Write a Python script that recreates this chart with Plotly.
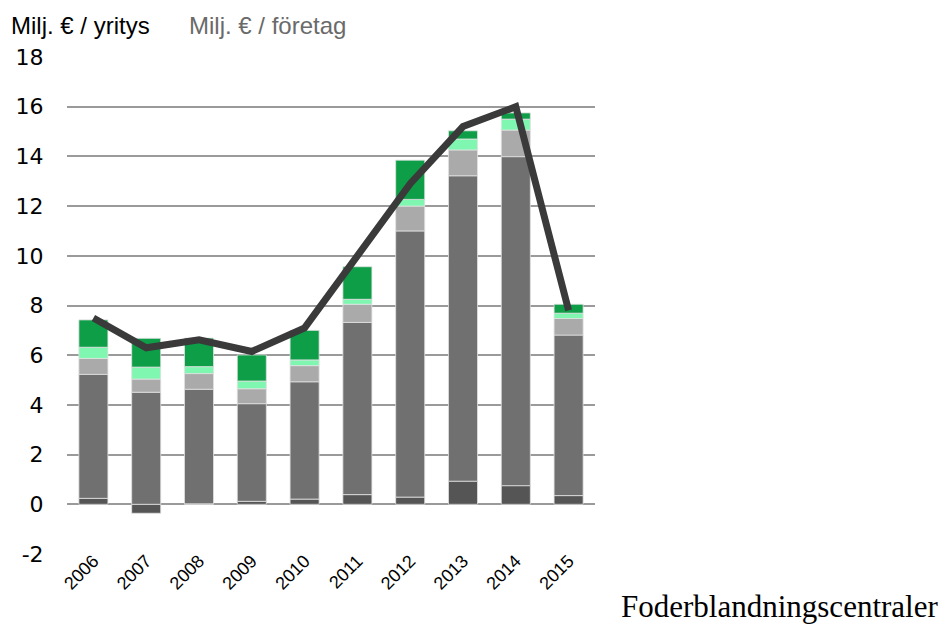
import plotly.graph_objects as go

# Vuodet / år
vuodet = ["2006", "2007", "2008", "2009", "2010", "2011", "2012", "2013", "2014", "2015"]

# Pinottujen pylvaiden osat (Milj. € / yritys), alhaalta ylos
osa_tumma = [0.24, -0.36, 0.02, 0.12, 0.21, 0.39, 0.29, 0.93, 0.75, 0.35]
osa_harmaa = [4.99, 4.51, 4.61, 3.93, 4.72, 6.93, 10.71, 12.29, 13.24, 6.46]
osa_vaaleanharmaa = [0.64, 0.53, 0.63, 0.60, 0.65, 0.73, 1.00, 1.04, 1.07, 0.67]
osa_vaaleanvihrea = [0.45, 0.48, 0.28, 0.31, 0.23, 0.20, 0.27, 0.44, 0.44, 0.21]
osa_vihrea = [1.10, 1.16, 1.15, 1.05, 1.19, 1.31, 1.58, 0.33, 0.25, 0.36]

# Viiva
viiva = [7.5, 6.3, 6.62, 6.15, 7.1, 9.95, 12.9, 15.2, 16.0, 7.8]

# Y-akselin merkinnat (tavuviiva, ei miinusmerkkia)
y_arvot = [-2, 0, 2, 4, 6, 8, 10, 12, 14, 16, 18]
y_tekstit = ["-2", "0", "2", "4", "6", "8", "10", "12", "14", "16", "18"]

osat = [
    (osa_tumma, "#555555"),
    (osa_harmaa, "#707070"),
    (osa_vaaleanharmaa, "#aaaaaa"),
    (osa_vaaleanvihrea, "#80f7b0"),
    (osa_vihrea, "#0e9e48"),
]

W, H = 945, 626
L, R, T, B = 67, 350, 57, 72
pw, ph = W - L - R, H - T - B


def px(x, y):
    # pikselit -> paperikoordinaatit
    return (x - L) / pw, 1 - (y - T) / ph


fig = go.Figure()

for arvot, vari in osat:
    fig.add_trace(go.Bar(
        x=vuodet, y=arvot,
        marker=dict(color=vari, line=dict(color="rgba(225,225,225,0.8)", width=1)),
        showlegend=False,
    ))

fig.add_trace(go.Scatter(
    x=vuodet, y=viiva,
    mode="lines",
    line=dict(color="#3a3a3a", width=7),
    showlegend=False,
))

tekstit = [
    ("Milj. € / yritys", 9, 25, "left", "Liberation Sans, Arial", 24, "#000000"),
    ("Milj. € / företag", 187, 25, "left", "Liberation Sans, Arial", 24, "#6a6a6a"),
    ("Foderblandningscentraler", 940, 606, "right", "Liberation Serif, Times New Roman", 31, "#000000"),
]
for teksti, x, y, ank, fam, koko, vari in tekstit:
    xp, yp = px(x, y)
    fig.add_annotation(
        text=teksti, x=xp, y=yp, xref="paper", yref="paper",
        showarrow=False, xanchor=ank, yanchor="middle",
        font=dict(family=fam, size=koko, color=vari),
    )

fig.update_layout(
    width=W, height=H,
    margin=dict(l=L, r=R, t=T, b=B, autoexpand=False),
    barmode="relative",
    bargap=0.45,
    plot_bgcolor="white",
    paper_bgcolor="white",
    xaxis=dict(
        range=[-0.5, 9.5],
        anchor="free",
        position=8 / ph,
        tickangle=-45,
        showgrid=False,
        showline=False,
        zeroline=False,
        ticks="",
        tickfont=dict(family="Liberation Sans, Arial", size=18, color="#000000"),
    ),
    yaxis=dict(
        range=[-2, 18],
        tickvals=y_arvot,
        ticktext=y_tekstit,
        showgrid=True,
        gridcolor="#9a9a9a",
        gridwidth=1.5,
        zeroline=False,
        showline=False,
        ticks="outside",
        ticklen=18,
        tickcolor="white",
        tickfont=dict(family="DejaVu Sans, Verdana", size=22, color="#000000"),
    ),
)

fig.write_html(
    "out.html",
    config={"displayModeBar": False},
    post_script="document.body.style.margin='0';document.body.style.overflow='hidden';",
)
